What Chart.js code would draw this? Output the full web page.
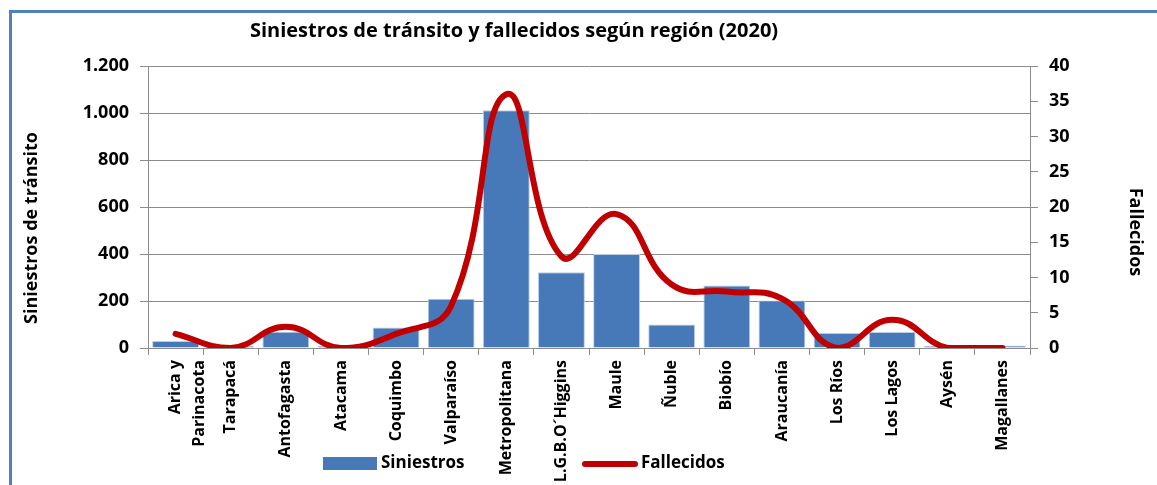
<!DOCTYPE html>
<html>
<head>
<meta charset="utf-8">
<script src="https://cdn.jsdelivr.net/npm/chart.js@4.4.1/dist/chart.umd.min.js"></script>
<style>
  html, body { margin: 0; padding: 0; background: #fff; overflow: hidden; }
  #frame {
    position: absolute; left: 9px; top: 10px;
    width: 1200px; height: 520px;
    border: 3px solid #4f81bd;
    box-sizing: border-box;
  }
  #chart { position: absolute; left: 0; top: 0; }
</style>
</head>
<body>
<div id="frame"></div>
<canvas id="chart" width="1157" height="485"></canvas>
<script>
// Data
const regions = [
  ["Arica y", "Parinacota"], "Tarapacá", "Antofagasta", "Atacama", "Coquimbo",
  "Valparaíso", "Metropolitana", "L.G.B.O´Higgins", "Maule", "Ñuble",
  "Biobío", "Araucanía", "Los Ríos", "Los Lagos", "Aysén", "Magallanes"
];
const siniestros = [30, 8, 69, 8, 87, 210, 1012, 322, 400, 100, 266, 202, 64, 68, 8, 11];
const fallecidos = [2, 0, 3, 0, 2, 6, 36, 13, 19, 9, 8, 7, 0, 4, 0, 0];

const leftTicks  = [0, 200, 400, 600, 800, 1000, 1200];
const rightTicks = [0, 5, 10, 15, 20, 25, 30, 35, 40];

const chartTitle = "Siniestros de tránsito y fallecidos según región (2020)";
const leftTitle  = "Siniestros de tránsito";
const rightTitle = "Fallecidos";
const FONT = "'Open Sans', Lato, sans-serif";
const GRID = "#8c8c8c";

// thousands separator with a dot, as in the reference
const fmt = v => String(v).replace(/\B(?=(\d{3})+(?!\d))/g, ".");

// Title, axis titles and legend drawn at fixed spots
// (the legend sits between the long category labels)
const decorations = {
  id: "decorations",
  afterDraw(chart) {
    const ctx = chart.ctx;
    ctx.save();
    ctx.fillStyle = "#000";
    ctx.textAlign = "center";
    ctx.textBaseline = "middle";
    ctx.font = "bold 20px " + FONT;
    ctx.fillText(chartTitle, 514, 31);

    // axis titles
    ctx.font = "bold 18px " + FONT;
    ctx.save();
    ctx.translate(32, 228);
    ctx.rotate(-Math.PI / 2);
    ctx.fillText(leftTitle, 0, 0);
    ctx.restore();
    ctx.save();
    ctx.translate(1135, 232);
    ctx.rotate(Math.PI / 2);
    ctx.fillText(rightTitle, 0, 0);
    ctx.restore();

    // legend
    const ds = chart.data.datasets;
    ctx.font = "bold 17px " + FONT;
    ctx.textAlign = "left";
    ctx.fillStyle = ds[1].backgroundColor;
    ctx.fillRect(323, 457, 54, 13);
    ctx.fillStyle = "#000";
    ctx.fillText(ds[1].label, 381, 463);
    ctx.strokeStyle = ds[0].borderColor;
    ctx.lineWidth = 6;
    ctx.lineCap = "round";
    ctx.beginPath();
    ctx.moveTo(585, 464);
    ctx.lineTo(635, 464);
    ctx.stroke();
    ctx.fillText(ds[0].label, 641, 463);
    ctx.restore();
  }
};

new Chart(document.getElementById("chart"), {
  type: "bar",
  data: {
    labels: regions,
    datasets: [
      {
        type: "line",
        label: "Fallecidos",
        data: fallecidos,
        yAxisID: "y1",
        borderColor: "#c00000",
        backgroundColor: "#c00000",
        borderWidth: 6,
        borderCapStyle: "round",
        pointRadius: 0,
        tension: 0.45,
        order: 0
      },
      {
        label: "Siniestros",
        data: siniestros,
        yAxisID: "y",
        backgroundColor: "#4779b8",
        borderColor: "#b9cde6",
        borderWidth: 1,
        barPercentage: 0.85,
        categoryPercentage: 1,
        order: 1
      }
    ]
  },
  options: {
    responsive: false,
    animation: false,
    layout: { padding: { top: 66, left: 0, right: 0, bottom: 0 } },
    plugins: {
      legend: { display: false },
      title: { display: false },
      tooltip: { enabled: false }
    },
    scales: {
      x: {
        afterFit: s => { s.height = 137; },
        grid: { drawOnChartArea: false, drawTicks: true, tickLength: 7, color: GRID, offset: true },
        border: { color: GRID },
        ticks: {
          color: "#000",
          font: { family: FONT, size: 16, weight: "bold", lineHeight: 1.5 },
          minRotation: 90, maxRotation: 90,
          autoSkip: false,
          padding: 5
        }
      },
      y: {
        position: "left",
        min: 0, max: 1200,
        afterFit: s => { s.width = 148; },
        afterBuildTicks: s => { s.ticks = leftTicks.map(v => ({ value: v })); },
        grid: { color: GRID, tickLength: 8 },
        border: { color: GRID },
        ticks: {
          color: "#000",
          font: { family: FONT, size: 18, weight: "bold" },
          padding: 11,
          callback: v => fmt(v)
        }
      },
      y1: {
        position: "right",
        min: 0, max: 40,
        afterFit: s => { s.width = 127; },
        afterBuildTicks: s => { s.ticks = rightTicks.map(v => ({ value: v })); },
        grid: { drawOnChartArea: false, color: GRID, tickLength: 8 },
        border: { color: GRID },
        ticks: {
          color: "#000",
          font: { family: FONT, size: 18, weight: "bold" },
          padding: 11
        }
      }
    }
  },
  plugins: [decorations]
});
</script>
</body>
</html>
